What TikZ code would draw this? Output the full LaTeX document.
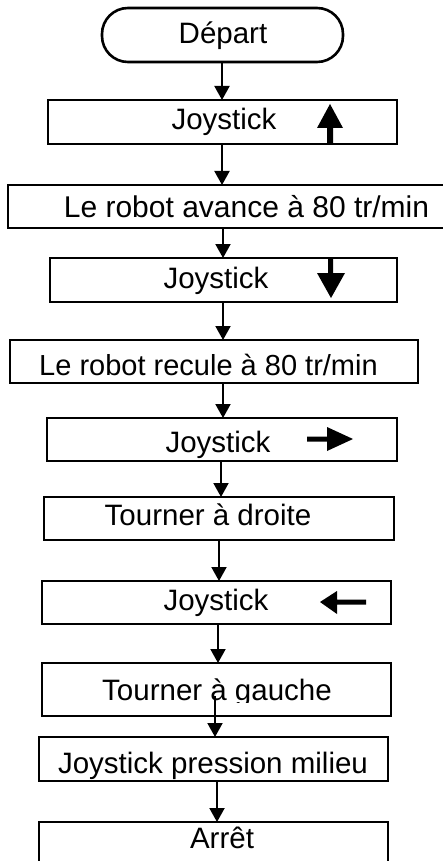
\documentclass[tikz,border=0pt]{standalone}
\usepackage{fontspec}
\setmainfont{Liberation Sans}
\usetikzlibrary{arrows.meta,calc}

\begin{document}
\begin{tikzpicture}[x=1pt,y=-1pt,
  box/.style={draw=black, line width=2.6pt, rectangle, inner sep=0pt, outer sep=0pt, fill=white},
  pill/.style={box, rounded corners=26pt},
  lbl/.style={anchor=base, inner sep=0pt, font=\fontsize{29.5pt}{34pt}\selectfont},
  flow/.style={draw=black, line width=2pt, -{Triangle[width=15pt,length=14pt]}},
  bigarrow/.style={fill=black, draw=none}
]
\useasboundingbox (0,0) rectangle (443,861);
\clip (0,0) rectangle (443,861);
\fill[white] (0,0) rectangle (443,861);

% boxes
\node[pill, minimum width=241pt, minimum height=54pt] (dep) at (222.5,35) {};
\node[box, minimum width=349pt, minimum height=44pt] (j1) at (222.5,122) {};
\node[box, minimum width=442pt, minimum height=43pt] (av) at (229,206.5) {};
\node[box, minimum width=347pt, minimum height=44pt] (j2) at (223.5,280) {};
\node[box, minimum width=408pt, minimum height=43pt] (re) at (214,361.5) {};
\node[box, minimum width=350pt, minimum height=43pt] (j3) at (222,439.5) {};
\node[box, minimum width=350pt, minimum height=43pt] (dr) at (219,518.5) {};
\node[box, minimum width=349pt, minimum height=43pt] (j4) at (216.5,602.5) {};
\node[box, minimum width=349pt, minimum height=53pt] (ga) at (216.5,689.5) {};
\node[box, minimum width=349pt, minimum height=44pt] (pr) at (213.5,759) {};
\node[box, minimum width=349pt, minimum height=50pt] (ar) at (213.5,847) {};

% labels
\node[lbl] (tdep) at (223,44) {Départ};
\node[lbl] (tj1) at (224,130) {Joystick};
\node[lbl, font=\fontsize{30pt}{34pt}\selectfont] (tav) at (246.5,217) {Le robot avance à 80 tr/min};
\node[lbl] (tj2) at (216,288) {Joystick};
\node[lbl, font=\fontsize{29pt}{34pt}\selectfont] (tre) at (208.5,375) {Le robot recule à 80 tr/min};
\node[lbl] (tj3) at (218,452) {Joystick};
\node[lbl] (tdr) at (208,525) {Tourner à droite};
\node[lbl] (tj4) at (216,610) {Joystick};
\node[lbl] (tga) at (217,700) {Tourner à gauche};
\node[lbl] (tpr) at (213,773) {Joystick pression milieu};
\node[lbl] (tar) at (222,848) {Arrêt};

% the lower part of the "gauche" label is hidden
\fill[white] (100,703) rectangle (336,713);

% joystick direction arrows
\fill[bigarrow] (327,143) -- (327,128) -- (317,128) -- (330,104) -- (343,128) -- (333,128) -- (333,143) -- cycle;
\fill[bigarrow] (328,259) -- (328,273) -- (317,273) -- (331,298) -- (345,273) -- (333,273) -- (333,259) -- cycle;
\fill[bigarrow] (307,436.5) -- (327,436.5) -- (327,427) -- (353,439) -- (327,451) -- (327,441.5) -- (307,441.5) -- cycle;
\fill[bigarrow] (366,599.5) -- (337,599.5) -- (337,591) -- (320,602) -- (337,614) -- (337,604.5) -- (366,604.5) -- cycle;

% connector columns
\coordinate (x1) at (222,0);
\coordinate (x2) at (222,0);
\coordinate (x3) at (223,0);
\coordinate (x4) at (223,0);
\coordinate (x5) at (223,0);
\coordinate (x6) at (221,0);
\coordinate (x7) at (219,0);
\coordinate (x8) at (218,0);
\coordinate (x9) at (215,0);
\coordinate (x10) at (217,0);

% connectors
\draw[flow] (dep.south -| x1) -- (j1.north -| x1);
\draw[flow] (j1.south -| x2) -- (av.north -| x2);
\draw[flow] (av.south -| x3) -- (j2.north -| x3);
\draw[flow] (j2.south -| x4) -- (re.north -| x4);
\draw[flow] (re.south -| x5) -- (j3.north -| x5);
\draw[flow] (j3.south -| x6) -- (dr.north -| x6);
\draw[flow] (dr.south -| x7) -- (j4.north -| x7);
\draw[flow] (j4.south -| x8) -- (ga.north -| x8);
\draw[flow] ($(ga.south -| x9)+(0,-20)$) -- (pr.north -| x9);
\draw[flow] (pr.south -| x10) -- (ar.north -| x10);
\end{tikzpicture}
\end{document}
